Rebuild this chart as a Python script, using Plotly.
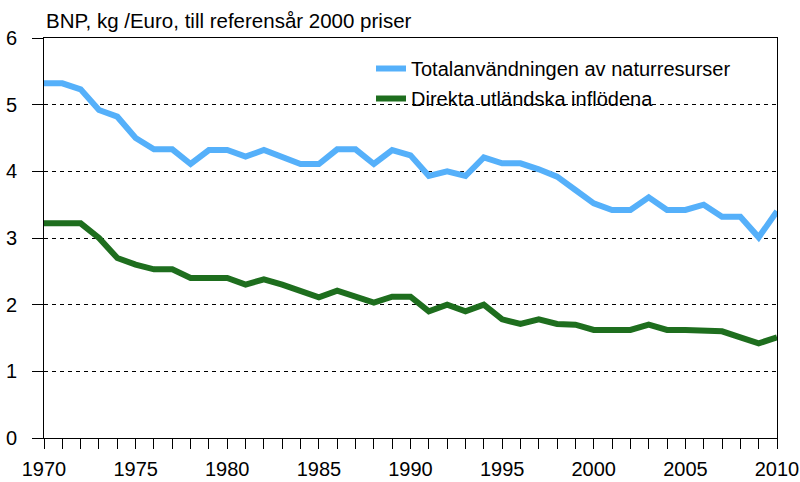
import plotly.graph_objects as go

years = list(range(1970, 2011))
total_use = [5.32, 5.32, 5.23, 4.92, 4.82, 4.50, 4.33, 4.33, 4.11, 4.32, 4.32, 4.22, 4.32, 4.22, 4.11, 4.11,
             4.33, 4.33, 4.11, 4.32, 4.24, 3.93, 4.00, 3.93, 4.21, 4.12, 4.12, 4.03, 3.92, 3.72, 3.52,
             3.42, 3.42, 3.61, 3.42, 3.42, 3.50, 3.32, 3.32, 3.01, 3.40]
direct_inflow = [3.22, 3.22, 3.22, 3.00, 2.70, 2.60, 2.53, 2.53, 2.40, 2.40, 2.40, 2.30, 2.38, 2.30, 2.20, 2.11,
                 2.21, 2.12, 2.03, 2.12, 2.12, 1.90, 2.00, 1.90, 2.00, 1.78, 1.71, 1.78, 1.71, 1.70, 1.62,
                 1.62, 1.62, 1.70, 1.62, 1.62, 1.62, 1.60, 1.51, 1.42, 1.51]
series_names = ["Totalanvändningen av naturresurser", "Direkta utländska inflödena"]
title_text = "BNP, kg /Euro, till referensår 2000 priser"
x_tick_vals = years
x_tick_text = [str(y) if y % 5 == 0 else "" for y in years]
y_tick_vals = [0, 1, 2, 3, 4, 5, 6]

FONT = "Liberation Sans, Arial, sans-serif"

fig = go.Figure()
fig.add_trace(go.Scatter(x=years, y=total_use, mode="lines", name=series_names[0],
                         line=dict(color="#55B0FA", width=6), legendgroup="a"))
fig.add_trace(go.Scatter(x=years, y=direct_inflow, mode="lines", name=series_names[1],
                         line=dict(color="#1E6E1E", width=6), legendgroup="b"))

fig.update_layout(
    width=800, height=482,
    margin=dict(l=44, r=23, t=38, b=44, autoexpand=False),
    paper_bgcolor="white", plot_bgcolor="white",
    font=dict(family=FONT, size=20, color="black"),
    showlegend=True,
    legend=dict(x=(371 - 44) / 733, xanchor="left", y=1.0 - (49 - 38) / 400, yanchor="top",
                bgcolor="rgba(0,0,0,0)", font=dict(size=20), tracegroupgap=1,
                traceorder="grouped", itemwidth=30),
    annotations=[dict(text=title_text, xref="paper", yref="paper", x=0, y=1, xanchor="left",
                      yanchor="bottom", yshift=4, showarrow=False, font=dict(size=20.5))],
)
fig.update_xaxes(range=[1970, 2010], tickvals=x_tick_vals, ticktext=x_tick_text,
                 ticks="outside", ticklen=10, tickcolor="black", tickwidth=1,
                 ticklabelstandoff=3,
                 showline=True, linecolor="black", linewidth=1, mirror=True,
                 showgrid=False, zeroline=False, tickangle=0, automargin=False)
fig.update_yaxes(range=[0, 6], tickvals=y_tick_vals, ticks="outside", ticklen=11,
                 tickcolor="black", tickwidth=1, ticklabelstandoff=11,
                 showline=True, linecolor="black", linewidth=1, mirror=True,
                 showgrid=True, gridcolor="black", gridwidth=1, griddash="4px,4px",
                 zeroline=False, automargin=False)

fig.write_html("out.html", config={"displayModeBar": False},
               post_script="document.body.style.margin='0px';document.body.style.overflow='hidden';")
